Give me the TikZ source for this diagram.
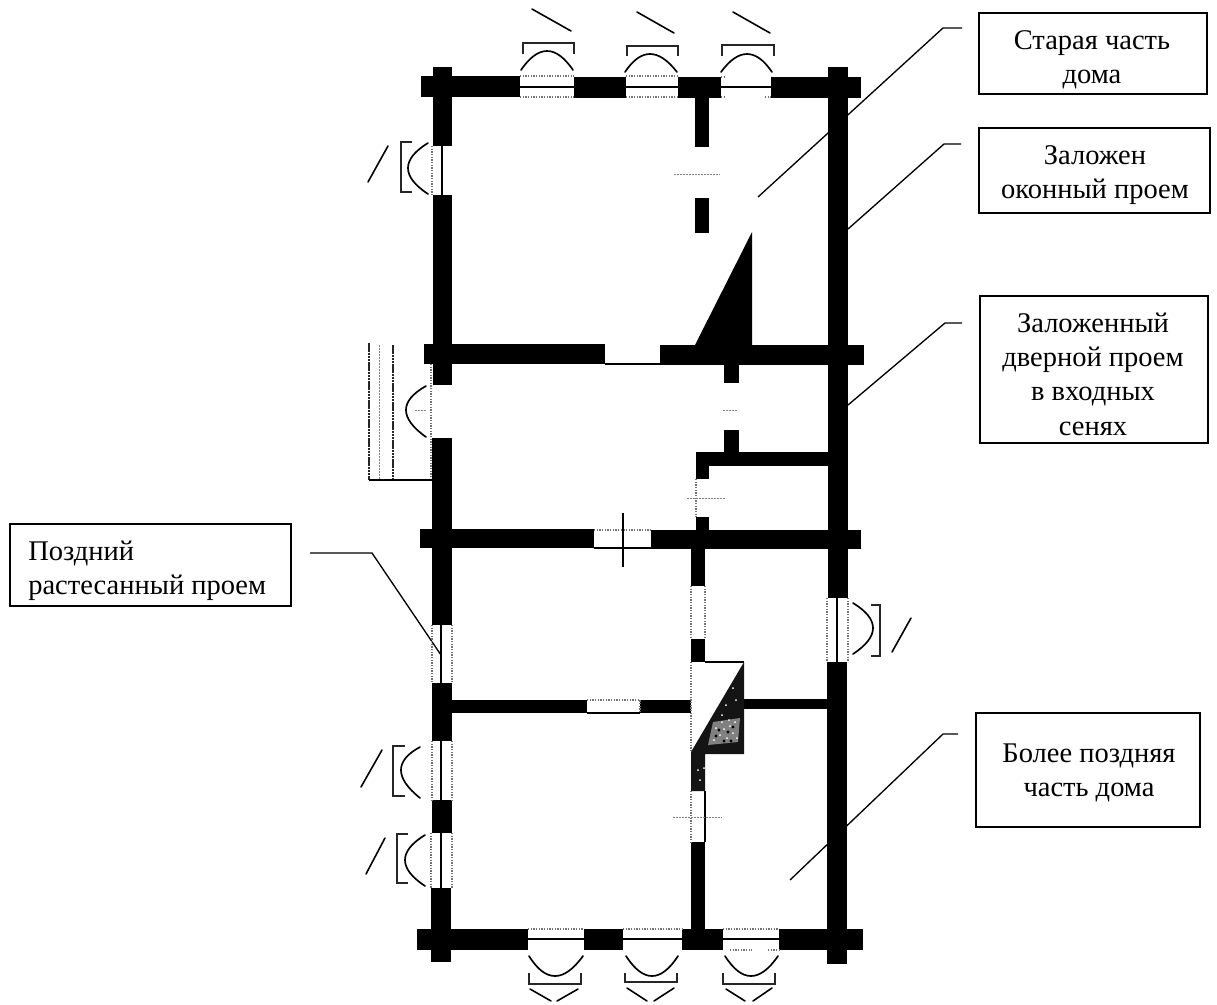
\documentclass[tikz,border=0pt]{standalone}
\usepackage{fontspec}
\usetikzlibrary{calc}
\setmainfont{Liberation Serif}
\tikzset{
  wall/.style={fill=black},
  leaderline/.style={draw=black,line width=0.8pt},
  arcline/.style={draw=black,line width=1pt,line cap=round},
  bracketline/.style={draw=black!85,line width=0.85pt},
  slashline/.style={draw=black,line width=0.95pt,line cap=round},
  midline/.style={draw=black,line width=0.8pt},
  edgedot/.style={draw=black!55,line width=0.75pt,dash pattern=on 0.8pt off 0.8pt},
  faint/.style={draw=black!50,line width=0.6pt,dash pattern=on 1.2pt off 0.6pt},
  darkdot/.style={draw=black!85,line width=0.8pt,dash pattern=on 1.5pt off 0.4pt},
  labelbox/.style={draw=black,line width=0.8pt,fill=white,inner sep=0pt},
  lab/.style={font=\fontsize{17.1}{20.6}\selectfont,inner sep=0pt,align=center,text=black}
}
\newcommand\doorcurve[3]{%
  \coordinate (Qc) at ($($(#1)!.5!(#3)$)!2!(#2)$);
  \draw[arcline] (#1) .. controls ($(#1)!.667!(Qc)$) and ($(#3)!.667!(Qc)$) .. (#3);
}
\begin{document}
\begin{tikzpicture}[x=0.6pt,y=-0.6pt]
\useasboundingbox (0,0) rectangle (1217,1004);
\fill[white] (0,0) rectangle (1217,1004);
% free ends of the leaders
\coordinate (s1) at (962,28);  \coordinate (k1) at (943,28);  \coordinate (e1) at (758,197);
\coordinate (s2) at (961,144); \coordinate (k2) at (944,144); \coordinate (e2) at (848,229);
\coordinate (s3) at (962,323); \coordinate (k3) at (945,323); \coordinate (e3) at (848,405);
\coordinate (s4) at (958,734); \coordinate (k4) at (943,734); \coordinate (e4) at (790,880);
\coordinate (s5) at (310,553); \coordinate (k5) at (372,553); \coordinate (e5) at (441,655);
\draw[leaderline] (s1) -- (k1) -- (e1);
\draw[leaderline] (s2) -- (k2) -- (e2);
\draw[leaderline] (s3) -- (k3) -- (e3);
\draw[leaderline] (s4) -- (k4) -- (e4);
\draw[leaderline] (s5) -- (k5) -- (e5);
% top wall
\fill[wall] (421,76) rectangle (520,97);
\fill[wall] (574,77) rectangle (626,98);
\fill[wall] (678,77) rectangle (721,98);
\fill[wall] (771,77) rectangle (861,98);
% second wall
\fill[wall] (424,344) rectangle (605,364);
\fill[wall] (660,345) rectangle (864,365);
% third wall
\fill[wall] (420,529) rectangle (594,548);
\fill[wall] (651,530) rectangle (861,549);
% bottom wall
\fill[wall] (417,929) rectangle (528,950);
\fill[wall] (584,929) rectangle (623,950);
\fill[wall] (682,929) rectangle (723,950);
\fill[wall] (779,929) rectangle (863,950);
% left wall
\fill[wall] (433,67) rectangle (452,146);
\fill[wall] (433,195) rectangle (452,385);
\fill[wall] (432,438) rectangle (452,625);
\fill[wall] (432,683) rectangle (452,741);
\fill[wall] (432,800) rectangle (452,833);
\fill[wall] (431,888) rectangle (451,962);
% right wall
\fill[wall] (828,67) rectangle (848,598);
\fill[wall] (827,662) rectangle (847,964);
% upper partition
\fill[wall] (695,98) rectangle (709,147);
\fill[wall] (695,198) rectangle (709,233);
\fill[wall] (695,345) -- (752,232) -- (752,345) -- cycle;
% entrance partitions
\fill[wall] (724,365) rectangle (739,383);
\fill[wall] (724,430) rectangle (739,452);
\fill[wall] (696,452) rectangle (828,466);
\fill[wall] (696,452) rectangle (709,479);
\fill[wall] (696,517) rectangle (709,530);
% lower partition
\fill[wall] (691,549) rectangle (705,586);
\fill[wall] (691,639) rectangle (705,662);
\fill[wall] (691,842) rectangle (705,929);
% fourth wall
\fill[wall] (452,700) rectangle (587,713);
\fill[wall] (640,700) rectangle (691,713);
\fill[wall] (744,699) rectangle (828,709);
% stove
\fill[black!92] (744,662) -- (744,754) -- (705,754) -- (705,791) -- (691,791) -- (691,752) -- cycle;
\fill[black!50] (713,722) -- (740,718) -- (738,742) -- (708,745) -- cycle;
\foreach \p in {(716,728),(722,722),(730,726),(735,722),(720,735),(727,738),(733,733),(714,740),(724,729),(737,738),(729,720),(736,700),(733,688),(726,705),(722,715),(704,768),(698,770),(700,780)}
  \fill[white] \p circle (1);
\foreach \p in {(719,730),(728,732),(733,727),(716,736),(724,741),(731,741)}
  \fill[black] \p circle (1.6);
% window and door openings: top
\draw[edgedot] (520,76) -- (574,76) (520,97) -- (574,97);
\draw[midline] (520,87) -- (574,87);
\draw[edgedot] (626,76) -- (678,76) (626,97) -- (678,97);
\draw[midline] (626,87) -- (678,87);
\draw[edgedot] (721,77) -- (725,77) (721,97) -- (725,97) (765,97) -- (771,97);
\draw[midline] (721,87) -- (771,87);
% bottom
\draw[edgedot] (528,929) -- (584,929);
\draw[midline] (528,939) -- (584,939);
\draw[edgedot] (623,929) -- (682,929);
\draw[midline] (623,939) -- (682,939);
\draw[edgedot] (723,929) -- (779,929) (730,950) -- (752,950) (768,950) -- (779,950);
\draw[midline] (723,939) -- (779,939);
% left
\draw[edgedot] (432,146) -- (432,195);
\draw[midline] (442,146) -- (442,195);
\draw[edgedot] (432,625) -- (432,683) (452,625) -- (452,683);
\draw[midline] (441,625) -- (441,683);
\draw[edgedot] (432,741) -- (432,800) (452,741) -- (452,800);
\draw[midline] (441,741) -- (441,800);
\draw[edgedot] (431,833) -- (431,888) (452,833) -- (452,888);
\draw[midline] (441,833) -- (441,888);
% right
\draw[edgedot] (827,598) -- (827,662) (848,598) -- (848,662);
\draw[midline] (837,598) -- (837,662);
% inner doors
\draw[midline] (605,364) -- (660,364);
\draw[edgedot] (594,530) -- (651,530);
\draw[midline] (594,548) -- (651,548);
\draw[midline] (623,513) -- (623,567);
\draw[edgedot] (587,700) -- (640,700) -- (640,713);
\draw[midline] (587,713) -- (640,713);
\draw[edgedot] (696,479) -- (696,517);
\draw[faint] (687,498) -- (725,498);
\draw[faint] (674,174) -- (720,174);
\draw[faint] (723,410) -- (737,410);
\draw[edgedot] (691,586) -- (691,639) (705,586) -- (705,639);
\draw[edgedot] (691,662) -- (691,752);
\draw[midline] (705,662) -- (744,662);
\draw[edgedot] (691,791) -- (691,842);
\draw[midline] (705,791) -- (705,842);
\draw[faint] (673,817) -- (722,817);
% porch
\draw[edgedot] (431,364) -- (431,480);
\draw[darkdot] (369,343) -- (369,480);
\draw[faint] (379,345) -- (379,480);
\draw[darkdot] (393,345) -- (393,480);
\draw[midline] (369,480) -- (432,480);
\draw[faint] (415,410) -- (426,410);
% door arcs
\doorcurve{521,70}{547,51}{573,70}
\doorcurve{625,72}{650,54}{677,72}
\doorcurve{721,72}{747,54}{772,72}
\doorcurve{529,956}{555,976}{583,956}
\doorcurve{626,956}{652,976}{678,956}
\doorcurve{725,956}{751,976}{778,956}
\doorcurve{428,143}{408,168}{428,194}
\doorcurve{426,386}{406,410}{426,437}
\doorcurve{420,747}{401,770}{420,798}
\doorcurve{425,835}{405,860}{425,886}
\doorcurve{853,603}{873,628}{853,654}
% brackets
\draw[bracketline] (523,54) -- (523,43) -- (574,43) -- (574,54);
\draw[bracketline] (627,56) -- (627,46) -- (678,46) -- (678,56);
\draw[bracketline] (722,56) -- (722,45) -- (774,45) -- (774,56);
\draw[bracketline] (529,973) -- (529,984) -- (581,984) -- (581,973);
\draw[bracketline] (625,973) -- (625,982) -- (677,982) -- (677,973);
\draw[bracketline] (723,973) -- (723,984) -- (775,984) -- (775,973);
\draw[bracketline] (412,142) -- (401,142) -- (401,192) -- (412,192);
\draw[bracketline] (405,746) -- (393,746) -- (393,796) -- (405,796);
\draw[bracketline] (408,834) -- (397,834) -- (397,883) -- (408,883);
\draw[bracketline] (871,605) -- (880,605) -- (880,656) -- (871,656);
% slashes
\draw[slashline] (532,9) -- (571,31);
\draw[slashline] (637,12) -- (674,33);
\draw[slashline] (733,12) -- (770,33);
\draw[slashline] (530,989) -- (551,1001);
\draw[slashline] (578,989) -- (557,1001);
\draw[slashline] (627,988) -- (647,1001);
\draw[slashline] (674,988) -- (654,1001);
\draw[slashline] (726,989) -- (745,1001);
\draw[slashline] (772,988) -- (753,1001);
\draw[slashline] (388,146) -- (368,182);
\draw[slashline] (382,750) -- (361,787);
\draw[slashline] (385,838) -- (366,874);
\draw[slashline] (892,652) -- (911,618);
% label boxes
\path[labelbox] (979,13) rectangle (1207,94);
\path[labelbox] (979,128) rectangle (1210,213);
\path[labelbox] (980,296) rectangle (1208,443);
\path[labelbox] (976,713) rectangle (1200,827);
\path[labelbox] (10,524) rectangle (291,606);
\node[lab] (t1) at (1092,60) {Старая часть\\дома};
\node[lab] (t2) at (1095,175) {Заложен\\оконный проем};
\node[lab] (t3) at (1093,374) {Заложенный\\дверной проем\\в входных\\сенях};
\node[lab] (t4) at (1089,773) {Более поздняя\\часть дома};
\node[lab,align=left,anchor=west] (t5) at (28,571) {Поздний\\растесанный проем};
\end{tikzpicture}
\end{document}
